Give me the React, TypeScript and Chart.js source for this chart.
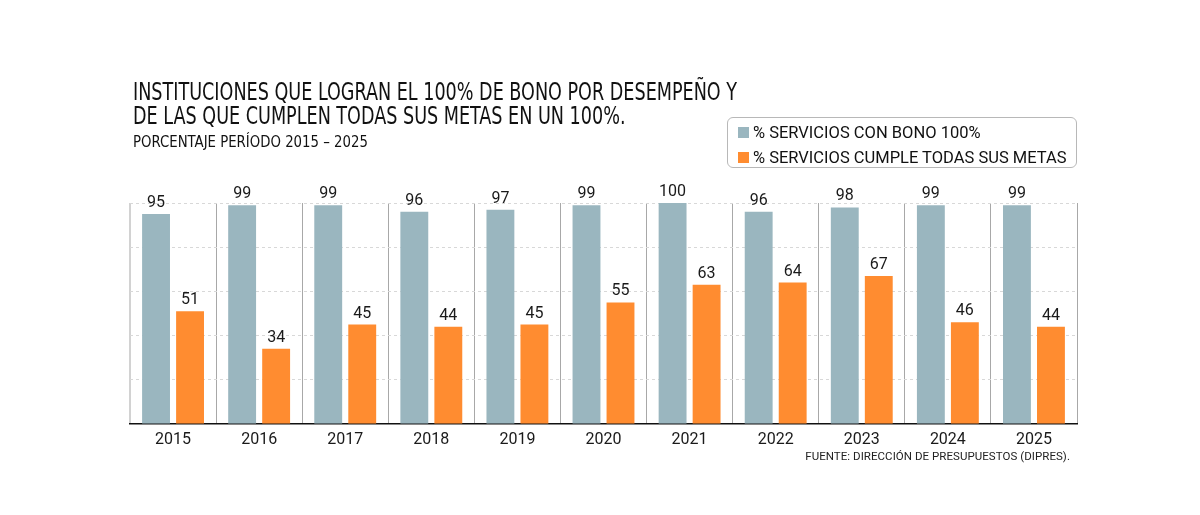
import { useEffect, useRef } from "react"
import { Chart, registerables } from "chart.js"

Chart.register(...registerables)

const years = ["2015", "2016", "2017", "2018", "2019", "2020", "2021", "2022", "2023", "2024", "2025"]
const bonoValues = [95, 99, 99, 96, 97, 99, 100, 96, 98, 99, 99]
const metasValues = [51, 34, 45, 44, 45, 55, 63, 64, 67, 46, 44]
const yTicks = [0, 20, 40, 60, 80, 100]

const GRAY = "#9ab6bf"
const ORANGE = "#ff8c30"
const TEXT_FONT = "Roboto, 'Noto Sans', sans-serif"
const TITLE_FONT = "'Liberation Sans Narrow', 'DejaVu Sans Condensed', Roboto, sans-serif"

// numbers above each bar
const valueLabels = {
  id: "valueLabels",
  afterDatasetsDraw(chart: Chart) {
    const ctx = chart.ctx
    ctx.save()
    ctx.font = `16px ${TEXT_FONT}`
    ctx.fillStyle = "#1a1a1a"
    ctx.textAlign = "center"
    ctx.textBaseline = "bottom"
    chart.data.datasets.forEach((ds, i) => {
      const meta = chart.getDatasetMeta(i)
      meta.data.forEach((el: any, j) => {
        ctx.fillText(String(ds.data[j]), el.x, el.y - 3)
      })
    })
    ctx.restore()
  },
}

export default function App() {
  const canvasRef = useRef<HTMLCanvasElement | null>(null)
  const chartRef = useRef<Chart | null>(null)

  useEffect(() => {
    if (!canvasRef.current) return
    const ctx = canvasRef.current.getContext("2d")
    if (!ctx) return

    chartRef.current = new Chart(ctx, {
      type: "bar",
      data: {
        labels: years,
        datasets: [
          { label: "% SERVICIOS CON BONO 100%", data: bonoValues, backgroundColor: GRAY },
          { label: "% SERVICIOS CUMPLE TODAS SUS METAS", data: metasValues, backgroundColor: ORANGE },
        ],
      },
      options: {
        responsive: false,
        animation: false,
        layout: { padding: { left: 130, right: 123, top: 203, bottom: 61 } },
        datasets: { bar: { categoryPercentage: 0.79, barPercentage: 0.82 } },
        plugins: {
          legend: { display: false },
          title: { display: false },
          tooltip: { enabled: false },
        },
        scales: {
          x: {
            grid: {
              offset: true,
              drawTicks: false,
              color: (c: any) => (c.index === 0 || c.index === years.length ? "#d2d2d2" : "#a8a8a8"),
              lineWidth: (c: any) => (c.index === 0 || c.index === years.length ? 2 : 1),
            },
            border: { display: true, color: "#111", width: 1.5 },
            ticks: { color: "#1a1a1a", font: { family: TEXT_FONT, size: 16 }, padding: 6 },
            afterFit: (scale: any) => {
              scale.height = 30
            },
          },
          y: {
            min: 0,
            max: 100,
            afterBuildTicks: (scale: any) => {
              scale.ticks = yTicks.map((v) => ({ value: v }))
            },
            ticks: { display: false },
            border: { display: false, dash: [3, 3] },
            grid: {
              drawTicks: false,
              color: (c: any) => (c.tick && c.tick.value === 0 ? "rgba(0,0,0,0)" : "#d8d8d8"),
              lineWidth: 1,
            },
            afterFit: (scale: any) => {
              scale.width = 0
            },
          },
        },
      },
      plugins: [valueLabels],
    })

    return () => {
      chartRef.current?.destroy()
      chartRef.current = null
    }
  }, [])

  return (
    <div style={{ position: "absolute", left: 0, top: 0, width: 1200, height: 515, background: "#fff", overflow: "hidden" }}>
      <canvas ref={canvasRef} width={1200} height={515} style={{ position: "absolute", left: 0, top: 0 }}></canvas>
      <div
        style={{
          position: "absolute",
          left: 133,
          top: 80,
          fontFamily: TITLE_FONT,
          fontSize: 24,
          lineHeight: "24px",
          color: "#111",
          whiteSpace: "nowrap",
          transform: "scaleX(0.815)",
          transformOrigin: "left top",
        }}
      >
        <div>INSTITUCIONES QUE LOGRAN EL 100% DE BONO POR DESEMPEÑO Y</div>
        <div>DE LAS QUE CUMPLEN TODAS SUS METAS EN UN 100%.</div>
      </div>
      <div style={{ position: "absolute", left: 133, top: 133, fontFamily: TITLE_FONT, fontSize: 15, lineHeight: "18px", color: "#111", whiteSpace: "nowrap", transform: "scaleX(0.985)", transformOrigin: "left top" }}>
        PORCENTAJE PERÍODO 2015 – 2025
      </div>
      <div
        style={{
          position: "absolute",
          left: 727,
          top: 117,
          width: 348,
          height: 49,
          border: "1px solid #b8b8b8",
          borderRadius: 6,
          fontFamily: TEXT_FONT,
          fontSize: 16.5,
          color: "#111",
        }}
      >
        <div style={{ position: "absolute", left: 10, top: 5, display: "flex", alignItems: "center", whiteSpace: "nowrap", lineHeight: "19px" }}>
          <span style={{ width: 11, height: 11, background: GRAY, display: "inline-block", marginRight: 4 }}></span>
          % SERVICIOS CON BONO 100%
        </div>
        <div style={{ position: "absolute", left: 10, top: 30, display: "flex", alignItems: "center", whiteSpace: "nowrap", lineHeight: "19px" }}>
          <span style={{ width: 11, height: 11, background: ORANGE, display: "inline-block", marginRight: 4 }}></span>
          % SERVICIOS CUMPLE TODAS SUS METAS
        </div>
      </div>
      <div
        style={{
          position: "absolute",
          right: 1200 - 1070,
          top: 449,
          fontFamily: TEXT_FONT,
          fontSize: 11.5,
          letterSpacing: 0.05,
          color: "#222",
          whiteSpace: "nowrap",
        }}
      >
        FUENTE: DIRECCIÓN DE PRESUPUESTOS (DIPRES).
      </div>
    </div>
  )
}
